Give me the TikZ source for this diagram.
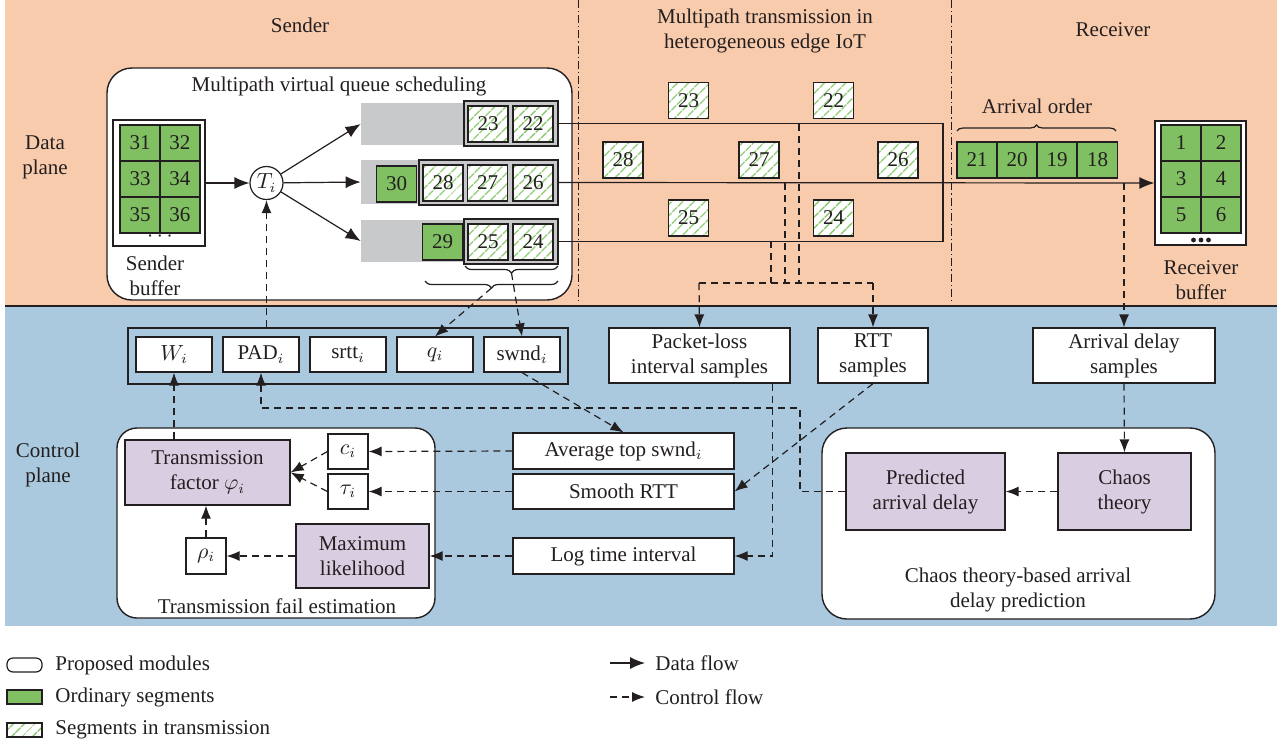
\documentclass[tikz,border=0pt]{standalone}
\usepackage{fontspec}
\setmainfont{Liberation Serif}
\usetikzlibrary{arrows.meta,patterns.meta,decorations.pathreplacing,calc}
\definecolor{bgor}{RGB}{249,203,173}
\definecolor{bgbl}{RGB}{171,201,222}
\definecolor{gseg}{RGB}{128,192,98}
\definecolor{purp}{RGB}{217,205,225}
\definecolor{qgrey}{RGB}{200,201,203}
\definecolor{hatch}{RGB}{130,198,100}
\definecolor{lc}{RGB}{35,31,32}
\newcommand\mybox[6]{\node[#1, minimum width={(#4-#2)*0.5pt}, minimum height={(#5-#3)*0.5pt}] (#6) at ({(#2+#4)/2},{(#3+#5)/2})}
\begin{document}
\begin{tikzpicture}[x=0.5pt,y=-0.5pt,
  font=\fontsize{10.5}{12.5}\selectfont, text=lc,
  ln/.style={draw=lc, line width=0.6pt},
  box/.style={draw=lc, line width=0.6pt, fill=white, inner sep=0pt, align=center},
  pbox/.style={box, fill=purp},
  gcell/.style={draw=lc, line width=0.6pt, fill=gseg, minimum width=20pt, minimum height=18pt, inner sep=0pt},
  hatchfill/.style={preaction={fill=white}, pattern={Lines[angle=45,distance=4pt,line width=0.8pt]}, pattern color=hatch},
  hcell/.style={draw=lc, line width=0.6pt, hatchfill, minimum width=20pt, minimum height=18pt, inner sep=0pt},
  frame/.style={draw=lc, line width=1pt, fill=qgrey, inner sep=0pt},
  queue/.style={fill=qgrey, inner sep=0pt},
  mod/.style={draw=lc, line width=0.7pt, fill=white, rounded corners=12.5pt, inner sep=0pt},
  dsh/.style={ln, dash pattern=on 3.5pt off 2.5pt},
  ctrl/.style={dsh, -{Latex[length=6.5pt,width=5pt]}},
  data/.style={ln, -{Latex[length=7.5pt,width=6pt]}},
  dashdot/.style={draw=lc, line width=0.5pt, dash pattern=on 4pt off 1.5pt on 0.6pt off 1.5pt},
  lab/.style={align=center, inner sep=0pt},
  leg/.style={anchor=west, inner sep=0pt}]
\useasboundingbox (0,0) rectangle (1282,746);
\fill[white] (0,0) rectangle (1282,746);
% planes
\fill[bgor] (5,0) rectangle (1277,306);
\fill[bgbl] (5,306) rectangle (1277,626);
\draw[lc, line width=0.8pt] (5,306) -- (1277,306);
\draw[dashdot] (578,0) -- (578,300);
\draw[dashdot] (951,0) -- (951,300);
% titles
\node[lab] (tsend) at (300,25) {Sender};
\node[lab] (tmid) at (765,31) {Multipath transmission in\\heterogeneous edge IoT};
\node[lab] (trecv) at (1113,30) {Receiver};
\node[lab] (tdp) at (45,157) {Data\\plane};
\node[lab] (tcp) at (48,465) {Control\\plane};
% sender module
\mybox{mod}{107}{68}{572}{300}{sm} {};
\node[lab] (smt) at (339,86) {Multipath virtual queue scheduling};
\mybox{draw=lc, line width=0.6pt, fill=white, inner sep=0pt}{113}{120}{205}{246}{sbuf} {};
\node[gcell] (c31) at (140,143) {31};
\node[gcell] (c32) at (180,143) {32};
\node[gcell] (c33) at (140,179) {33};
\node[gcell] (c34) at (180,179) {34};
\node[gcell] (c35) at (140,215) {35};
\node[gcell] (c36) at (180,215) {36};
\node[lab] (sdots) at (160,237) {$\cdots$};
\node[lab] (sbt) at (155,276) {Sender\\buffer};
\node[circle, draw=lc, line width=0.6pt, fill=white, minimum size=16.5pt, inner sep=0pt] (Ti) at (266.5,183) {$T_i$};
% queues
\mybox{queue}{361}{103}{557}{145}{Q1} {};
\mybox{queue}{361}{160}{557}{204}{Q2} {};
\mybox{queue}{361}{220}{557}{262}{Q3} {};
\mybox{frame}{464}{101}{558}{146}{F1} {};
\mybox{frame}{419}{160}{558}{205}{F2} {};
\mybox{frame}{464}{219}{558}{264}{F3} {};
\node[hcell] (q23) at (488,124) {23};
\node[hcell] (q22) at (533,124) {22};
\node[gcell] (q30) at (396.5,184) {30};
\node[hcell] (q28) at (443,183) {28};
\node[hcell] (q27) at (487.5,183) {27};
\node[hcell] (q26) at (533,183) {26};
\node[gcell] (q29) at (442.5,242) {29};
\node[hcell] (q25) at (488,242) {25};
\node[hcell] (q24) at (533,242) {24};
\draw[data] (sbuf.east) -- (Ti.west);
\draw[data] (Ti) -- (Q1.west);
\draw[data] (Ti) -- (Q2.west);
\draw[data] (Ti) -- (Q3.west);
% braces
\draw[ln, decorate, decoration={brace, amplitude=3.5pt}] (558,266) -- (465,266);
\draw[ln, decorate, decoration={brace, amplitude=3.5pt}] (558,281) -- (425,281);
\coordinate (bt1) at (511.5,273);
\coordinate (bt2) at (491.5,288);
% paths
\coordinate (jn) at (943,183);
\draw[ln] (F1.east) -- (F1.east -| jn) -- (F3.east -| jn) -- (F3.east);
% in transmission
\node[hcell] (m23) at (688.5,100.5) {23};
\node[hcell] (m22) at (833.5,100.5) {22};
\node[hcell] (m28) at (623,160) {28};
\node[hcell] (m27) at (759,160) {27};
\node[hcell] (m26) at (898,160) {26};
\node[hcell] (m25) at (688.5,218) {25};
\node[hcell] (m24) at (833.5,218) {24};
% receiver
\node[lab] (arro) at (1037,106) {Arrival order};
\draw[ln, decorate, decoration={brace, amplitude=3pt}] (957,131) -- (1116,131);
\node[gcell] (r21) at (977,160) {21};
\node[gcell] (r20) at (1017,160) {20};
\node[gcell] (r19) at (1057,160) {19};
\node[gcell] (r18) at (1097.5,160) {18};
\mybox{draw=lc, line width=0.6pt, fill=white, inner sep=0pt}{1155}{121}{1246}{245}{rbuf} {};
\node[gcell] (b1) at (1181,143) {1};
\node[gcell] (b2) at (1221,143) {2};
\node[gcell] (b3) at (1181,179) {3};
\node[gcell] (b4) at (1221,179) {4};
\node[gcell] (b5) at (1181,215) {5};
\node[gcell] (b6) at (1221,215) {6};
\fill[lc] (1193.5,240) circle (1.2pt) (1201,240) circle (1.2pt) (1208.5,240) circle (1.2pt);
\node[lab] (rbt) at (1201,280) {Receiver\\buffer};
\draw[data] (F2.east) -- (rbuf.west);
% control plane boxes
\mybox{draw=lc, line width=0.6pt, inner sep=0pt}{128}{328}{568}{384}{reg} {};
\mybox{box}{136}{337}{212}{372}{W} {$W_i$};
\mybox{box}{223}{337}{299}{372}{PAD} {PAD$_i$};
\mybox{box}{310}{337}{386}{372}{srtt} {srtt$_i$};
\mybox{box}{397}{337}{473}{372}{q} {$q_i$};
\mybox{box}{484}{337}{560}{372}{swnd} {swnd$_i$};
\mybox{box}{609}{328}{790}{383}{pl} {Packet-loss\\interval samples};
\mybox{box}{818}{328}{928}{383}{rtt} {RTT\\samples};
\mybox{box}{1033}{328}{1215}{383}{ads} {Arrival delay\\samples};
\mybox{box}{513}{433}{734}{469}{avg} {Average top swnd$_i$};
\mybox{box}{513}{474}{734}{509}{smooth} {Smooth RTT};
\mybox{box}{513}{538}{734}{574}{logt} {Log time interval};
% transmission fail estimation
\mybox{mod, rounded corners=10pt}{117}{428}{435}{618}{tfe} {};
\mybox{pbox}{125}{440}{290}{505}{tf} {Transmission\\factor $\varphi_i$};
\mybox{box}{328}{434}{368}{469}{ci} {$c_i$};
\mybox{box}{328}{474}{368}{509}{taui} {$\tau_i$};
\mybox{box}{186}{538}{226}{574}{rho} {$\rho_i$};
\mybox{pbox}{296}{524}{429}{588}{ml} {Maximum\\likelihood};
\node[lab] (tfet) at (277,606) {Transmission fail estimation};
% chaos module
\mybox{mod}{822}{428}{1215}{619}{cm} {};
\mybox{pbox}{846}{453}{1005}{530}{pred} {Predicted\\arrival delay};
\mybox{pbox}{1058}{453}{1191}{530}{chaos} {Chaos\\theory};
\node[lab] (cmt) at (1018,590) {Chaos theory-based arrival\\delay prediction};
% control connectors
\coordinate (tap1) at (799,124);
\coordinate (tap2) at (785,183);
\coordinate (tap3) at (771,241);
\coordinate (hb1) at (699,283);
\coordinate (hb2) at (873,283);
\draw[dsh] (tap1) -- (tap1 |- hb1);
\draw[dsh] (tap2) -- (tap2 |- hb1);
\draw[dsh] (tap3) -- (tap3 |- hb1);
\draw[dsh] (hb1) -- (hb2);
\draw[ctrl] (hb1) -- (pl.north);
\draw[ctrl] (hb2) -- (rtt.north);
\coordinate (rtap) at (1124,183);
\draw[ctrl] (rtap) -- (ads.north);
\draw[ctrl] (reg.north -| Ti) -- (Ti.south);
\draw[ctrl] (bt2) -- (q.north);
\draw[ctrl] (bt1) -- (swnd.north);
\draw[ctrl] (swnd.south) -- (avg.north);
\draw[ctrl] ([xshift=-9pt]pl.south east) |- (logt.east);
\draw[ctrl] (rtt.south) -- (smooth.east);
\draw[ctrl] (ads.south) -- (chaos.north);
\draw[ctrl] (chaos.west) -- (pred.east);
\coordinate (bend) at (800,408);
\draw[ctrl] (pred.west) -| (bend) -| (PAD.south);
\draw[ctrl] (avg.west) -- (ci.east);
\draw[ctrl] (smooth.west) -- (taui.east);
\draw[ctrl] (logt.west) -- (ml.east);
\draw[ctrl] (ml.west) -- (rho.east);
\draw[ctrl] (rho.north) -- (rho.north |- tf.south);
\draw[ctrl] (ci.west) -- (tf.east);
\draw[ctrl] (taui.west) -- (tf.east);
\draw[ctrl] (tf.north -| W.south) -- (W.south);
% legend
\mybox{draw=lc, line width=0.6pt, fill=white, rounded corners=3pt, inner sep=0pt}{7}{658}{42}{672}{lg1} {};
\node[leg] (lt1) at (55,665) {Proposed modules};
\mybox{draw=lc, line width=0.6pt, fill=gseg, inner sep=0pt}{7}{690}{42}{704}{lg2} {};
\node[leg] (lt2) at (55,697) {Ordinary segments};
\mybox{draw=lc, line width=0.6pt, hatchfill, inner sep=0pt}{7}{723}{42}{737}{lg3} {};
\node[leg] (lt3) at (55,730) {Segments in transmission};
\coordinate (la1) at (610,663);
\node[leg] (lt4) at (655,663) {Data flow};
\draw[data] (la1) -- ([xshift=-5pt]lt4.west);
\coordinate (la2) at (610,697);
\node[leg] (lt5) at (655,697) {Control flow};
\draw[ctrl] (la2) -- ([xshift=-5pt]lt5.west);
\end{tikzpicture}
\end{document}
